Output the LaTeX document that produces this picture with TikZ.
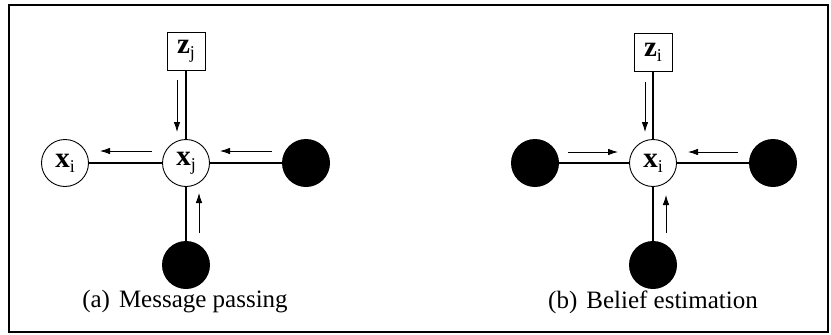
\documentclass[tikz,border=0pt]{standalone}
\usepackage{fontspec}
\setmainfont{Liberation Serif}
\usetikzlibrary{arrows.meta}
\newcommand{\bsub}[2]{{\fontsize{29}{29}\selectfont\bfseries #1}\raisebox{-5pt}{\fontsize{18}{18}\selectfont #2}}
\begin{document}
\begin{tikzpicture}[x=1pt,y=-1pt,
  var/.style={circle,draw,line width=0.9pt,minimum size=47pt,inner sep=0pt,fill=white},
  hid/.style={circle,fill=black,minimum size=48pt,inner sep=0pt},
  obs/.style={rectangle,draw,line width=0.9pt,minimum size=38pt,inner sep=0pt,fill=white},
  edge/.style={line width=1.1pt},
  msg/.style={line width=0.8pt,-{Latex[length=10pt,width=6.5pt]}},
  captext/.style={anchor=base,font=\fontsize{25}{25}\selectfont}
]
\useasboundingbox (0,0) rectangle (831,335);
\draw[line width=1.3pt] (9,5) rectangle (828,332);

% ---------- (a) ----------
\node[obs] (zj) at (186,51) {\bsub{z}{j}};
\node[var] (xj) at (186,163) {\bsub{x}{j}};
\node[var] (xi) at (65,163) {\bsub{x}{i}};
\node[hid] (ra) at (306,163) {};
\node[hid] (ba) at (186,265) {};
\draw[edge] (zj) -- (xj);
\draw[edge] (xj) -- (xi);
\draw[edge] (xj) -- (ra);
\draw[edge] (xj) -- (ba);
\coordinate (a1s) at (177,80);  \coordinate (a1e) at (177,132);
\coordinate (a2s) at (152,151); \coordinate (a2e) at (100,151);
\coordinate (a3s) at (272,151); \coordinate (a3e) at (220,151);
\coordinate (a4s) at (199,233); \coordinate (a4e) at (199,193);
\draw[msg] (a1s) -- (a1e);
\draw[msg] (a2s) -- (a2e);
\draw[msg] (a3s) -- (a3e);
\draw[msg] (a4s) -- (a4e);
\node[captext] (capa) at (185,307) {(a)\hspace{9pt}Message passing};

% ---------- (b) ----------
\node[obs] (zi) at (653,52) {\bsub{z}{i}};
\node[var] (xib) at (653,163) {\bsub{x}{i}};
\node[hid] (lb) at (535,163) {};
\node[hid] (rb) at (773,163) {};
\node[hid] (bb) at (653,265) {};
\draw[edge] (zi) -- (xib);
\draw[edge] (xib) -- (lb);
\draw[edge] (xib) -- (rb);
\draw[edge] (xib) -- (bb);
\coordinate (b1s) at (645,82);  \coordinate (b1e) at (645,132);
\coordinate (b2s) at (568,152); \coordinate (b2e) at (618,152);
\coordinate (b3s) at (738,152); \coordinate (b3e) at (688,152);
\coordinate (b4s) at (666,233); \coordinate (b4e) at (666,195);
\draw[msg] (b1s) -- (b1e);
\draw[msg] (b2s) -- (b2e);
\draw[msg] (b3s) -- (b3e);
\draw[msg] (b4s) -- (b4e);
\node[captext] (capb) at (653,308) {(b)\hspace{9pt}Belief estimation};
\end{tikzpicture}
\end{document}
